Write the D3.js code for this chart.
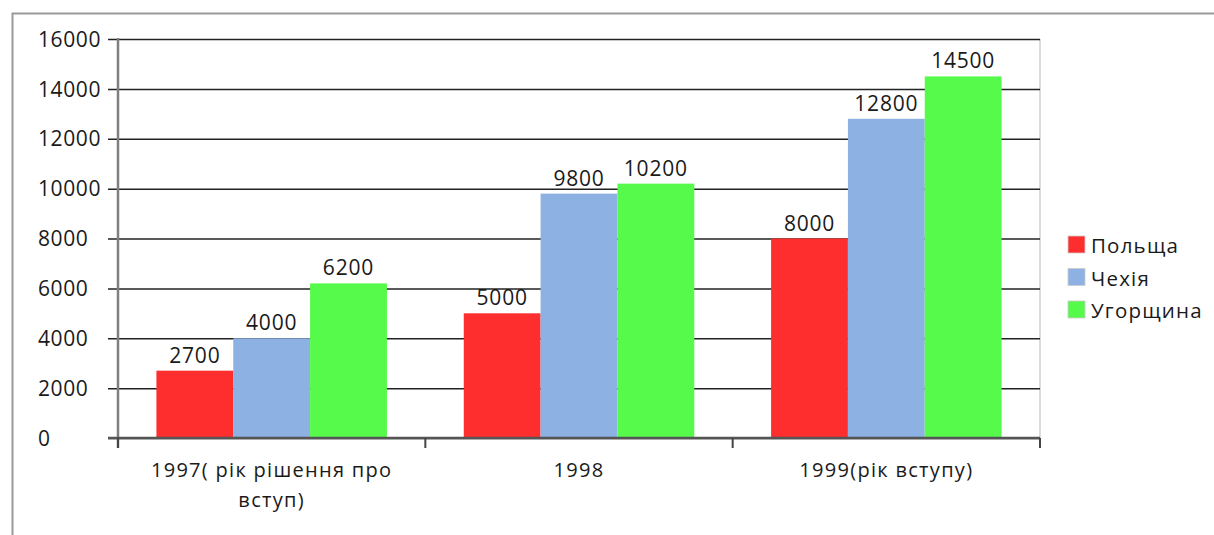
<!DOCTYPE html>
<html><head><meta charset="utf-8">
<script src="https://cdn.jsdelivr.net/npm/d3@7"></script>
<style>
html,body{margin:0;padding:0;background:#fff;}
svg text{font-family:"Open Sans",sans-serif;fill:#1a1a1a;}
</style></head>
<body><svg id="c" width="1214" height="535"></svg>
<script>
const categories = [["1997( рік рішення про","вступ)"],["1998"],["1999(рік вступу)"]];
const seriesNames = ["Польща","Чехія","Угорщина"];
const seriesColors = ["#ff2e2e","#8db1e2","#56fa4b"];
const poland = [2700,5000,8000];
const czech = [4000,9800,12800];
const hungary = [6200,10200,14500];
const yTicks = [0,2000,4000,6000,8000,10000,12000,14000,16000];

const series = [poland, czech, hungary];
const svg = d3.select("#c");
const L=118, R=1040, T=39, B=438;

// outer frame
svg.append("path").attr("d","M12.5,535 V13.5 H1214").attr("fill","none").attr("stroke","#9a9a9a").attr("stroke-width",2);

const y = d3.scaleLinear().domain([0,16000]).range([B,T]);
const x0 = d3.scaleBand().domain(d3.range(categories.length)).range([L,R]).paddingInner(0.25).paddingOuter(0.125);
const x1 = d3.scaleBand().domain(d3.range(series.length)).range([0,x0.bandwidth()]);

// right border
svg.append("line").attr("x1",R).attr("x2",R).attr("y1",T).attr("y2",B).attr("stroke","#d0d0d0").attr("stroke-width",1.5);

// gridlines
const yAxis = d3.axisLeft(y).tickValues(yTicks).tickSize(10).tickPadding(4).tickFormat(d3.format("d"));
const ga = svg.append("g").attr("transform",`translate(${L},0)`).call(yAxis);
ga.select(".domain").remove();
ga.selectAll(".tick line").attr("stroke","#222").attr("stroke-width",1.5).attr("x2", R-L).attr("x1",-10);
ga.selectAll(".tick text").attr("font-size",21).attr("letter-spacing","0.6px").attr("text-anchor","start").attr("x",-80).attr("dy","0.34em").style("fill","#1a1a1a");

// bars
const cells = (d,i)=>series.map((s,j)=>({j, v:s[i]}));
const groups = svg.append("g").selectAll("g").data(categories).join("g")
  .attr("transform",(d,i)=>`translate(${x0(i)},0)`);
groups.selectAll("rect").data(cells).join("rect")
  .attr("x",d=>x1(d.j)).attr("width",x1.bandwidth())
  .attr("y",d=>y(d.v)).attr("height",d=>B-y(d.v)).attr("fill",d=>seriesColors[d.j]);
groups.selectAll("text.val").data(cells).join("text")
  .attr("class","val").attr("x",d=>x1(d.j)+x1.bandwidth()/2).attr("y",d=>y(d.v)-8)
  .attr("text-anchor","middle").attr("font-size",21).attr("letter-spacing","0.8px").text(d=>String(d.v));

// axes lines
svg.append("line").attr("x1",L).attr("x2",L).attr("y1",T-1).attr("y2",B+10).attr("stroke","#7f7f7f").attr("stroke-width",2.5);
svg.append("line").attr("x1",L-10).attr("x2",R).attr("y1",B).attr("y2",B).attr("stroke","#555").attr("stroke-width",2.5);
// category ticks
const ctick = [L, ...d3.range(1,categories.length).map(i=>x0(i)-x0.step()*x0.paddingInner()/2), R];
svg.selectAll("line.ct").data(ctick).join("line").attr("class","ct")
  .attr("x1",d=>d).attr("x2",d=>d).attr("y1",B).attr("y2",B+10).attr("stroke","#444").attr("stroke-width",2);

// category labels
svg.selectAll("text.cat").data(categories).join("text").attr("class","cat")
  .attr("text-anchor","middle").attr("font-size",20).attr("letter-spacing","1.3px")
  .attr("transform",(d,i)=>`translate(${x0(i)+x0.bandwidth()/2},477)`)
  .selectAll("tspan").data(d=>d).join("tspan").attr("x",0).attr("dy",(d,k)=>k?30:0).text(d=>d);

// legend
const lg = svg.append("g").attr("transform","translate(1068,236)");
const li = lg.selectAll("g").data(seriesNames).join("g").attr("transform",(d,i)=>`translate(0,${i*32.5})`);
li.append("rect").attr("width",17).attr("height",17).attr("fill",(d,i)=>seriesColors[i]).attr("stroke","#ccc").attr("stroke-width",0.8);
li.append("text").attr("x",23).attr("y",17).attr("font-size",20.5).attr("letter-spacing","1.2px").text(d=>d);
</script></body></html>
